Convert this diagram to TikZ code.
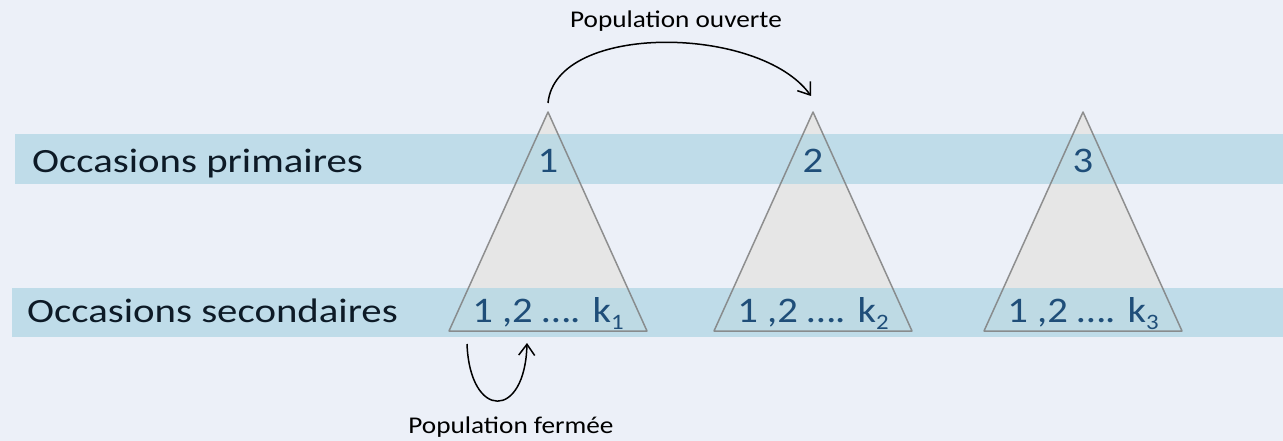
\documentclass[tikz,border=0pt]{standalone}
\usepackage{fontspec}
\setmainfont{Carlito}
\newfontfamily\labfont[FakeStretch=1.2]{Carlito}
\newfontfamily\numfont[FakeStretch=1.13]{Carlito}
\newfontfamily\popfont[FakeStretch=1.135]{Carlito}
\usetikzlibrary{arrows.meta}
\definecolor{bg}{HTML}{ECF0F8}
\definecolor{bandc}{HTML}{B1D6E4}
\definecolor{trifill}{HTML}{E6E6E6}
\definecolor{triline}{HTML}{7F7F7F}
\definecolor{numc}{HTML}{1F4E79}
\definecolor{labc}{HTML}{0D1A26}
\tikzset{
  trif/.style={fill=trifill},
  tril/.style={draw=triline, draw opacity=0.85, line width=1.5pt, line join=round},
  band/.style={fill=bandc, fill opacity=0.75},
  rowlabel/.style={anchor=base west, inner sep=0pt, text=labc, font=\labfont\fontsize{34}{40}\selectfont},
  num/.style={anchor=base, inner sep=0pt, text=numc, font=\numfont\fontsize{36}{42}\selectfont},
  poplabel/.style={anchor=base, inner sep=0pt, text=black, font=\popfont\fontsize{24}{28}\selectfont},
  conn/.style={line width=1.5pt, -{Straight Barb[length=11pt,width=16pt,line width=1.5pt]}},
}
\newcommand{\ksub}[1]{k\raisebox{-7pt}{\fontsize{22}{24}\selectfont #1}}
\begin{document}
\begin{tikzpicture}[x=1pt,y=-1pt]
\fill[bg] (0,0) rectangle (1283,441);
\useasboundingbox (0,0) rectangle (1283,441);
% triangle fills
\fill[trif] (548,112) -- (647,331) -- (449,331) -- cycle;
\fill[trif] (813,112) -- (912,331) -- (714,331) -- cycle;
\fill[trif] (1083,112) -- (1182,331) -- (984,331) -- cycle;
% bands
\fill[band] (15,134) rectangle (1283,184);
\fill[band] (12,288) rectangle (1283,337);
% triangle outlines
\draw[tril] (548,112) -- (647,331) -- (449,331) -- cycle;
\draw[tril] (813,112) -- (912,331) -- (714,331) -- cycle;
\draw[tril] (1083,112) -- (1182,331) -- (984,331) -- cycle;
% labels
\node[rowlabel] (lp) at (32,173) {Occasions primaires};
\node[rowlabel] (ls) at (27,322) {Occasions secondaires};
\node[num] (p1) at (548,173) {1};
\node[num] (p2) at (813,173) {2};
\node[num] (p3) at (1083,173) {3};
\node[num] (s1) at (548,322) {1 ,2 …. \ksub{1}};
\node[num] (s2) at (813,322) {1 ,2 …. \ksub{2}};
\node[num] (s3) at (1083,322) {1 ,2 …. \ksub{3}};
\node[poplabel] (po) at (676,28) {Population ouverte};
\node[poplabel] (pf) at (511,433) {Population fermée};
% connectors
\coordinate (a1) at (548,103);
\coordinate (a2) at (811,96);
\coordinate (b1) at (467,344);
\coordinate (b2) at (527,343);
\draw[conn] (a1) .. controls (556,22) and (760,25) .. (a2);
\draw[conn] (b1) .. controls (470,420) and (525,420) .. (b2);
\end{tikzpicture}
\end{document}
